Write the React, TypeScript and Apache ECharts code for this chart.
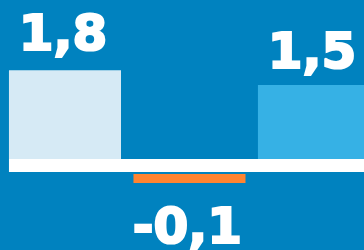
import React, { useEffect, useRef } from "react";
import * as echarts from "echarts";

const categories = ["A", "B", "C"];
const values = [1.8, -0.1, 1.5];
const labels = ["1,8", "-0,1", "1,5"];
const colors = ["#d6eaf5", "#ff8431", "#36b1e5"];

const BG = "#0082bf";

export default function App() {
  const ref = useRef<HTMLDivElement>(null);
  useEffect(() => {
    const chart = echarts.init(ref.current!, null, { renderer: "svg" });
    const data = values.map((v, i) => [i, v, categories[i]]);
    const option: any = {
      animation: false,
      backgroundColor: BG,
      grid: { left: 0, right: 0, top: 0, bottom: 0 },
      xAxis: {
        type: "value",
        min: -0.522,
        max: 2.402,
        show: false,
        splitLine: { show: false },
      },
      yAxis: {
        type: "value",
        min: -1.84,
        max: 3.22,
        show: false,
        splitLine: { show: false },
      },
      series: [
        {
          type: "custom",
          data,
          clip: false,
          renderItem: (params: any, api: any) => {
            const i = api.value(0);
            const v = api.value(1);
            const base = api.coord([i, 0]);
            const top = api.coord([i, v]);
            const w = api.size([1, 0])[0] * 0.9;
            const x = base[0] - w / 2;
            const fill = colors[params.dataIndex];
            const text = labels[params.dataIndex];
            const font = "bold 50px 'DejaVu Sans'";
            const textStyle = {
              text,
              font,
              fill: "#ffffff",
              stroke: "#ffffff",
              lineWidth: 2.2,
              align: "center",
            };
            if (v >= 0) {
              const baseline = base[1] + (top[1] - base[1]) * 1.245;
              return {
                type: "group",
                children: [
                  {
                    type: "rect",
                    shape: { x, y: top[1], width: w, height: base[1] - top[1] },
                    style: { fill },
                  },
                  {
                    type: "text",
                    x: base[0] - 2,
                    y: baseline + 9.5,
                    style: { ...textStyle, verticalAlign: "bottom" },
                  },
                ],
              };
            }
            const y0 = base[1] + 15;
            const h = Math.max(top[1] - base[1], 9);
            return {
              type: "group",
              children: [
                {
                  type: "rect",
                  shape: { x, y: y0, width: w, height: h },
                  style: { fill },
                },
                {
                  type: "text",
                  x: base[0] - 2,
                  y: y0 + h + 18,
                  style: { ...textStyle, verticalAlign: "top" },
                },
              ],
            };
          },
        },
      ],
    };
    chart.setOption(option);
    const zero = chart.convertToPixel({ yAxisIndex: 0 }, 0) as number;
    const c0 = chart.convertToPixel({ xAxisIndex: 0 }, 0) as number;
    const band = (chart.convertToPixel({ xAxisIndex: 0 }, 1) as number) - c0;
    const left = c0 - band * 0.45;
    chart.setOption({
      graphic: [
        {
          type: "rect",
          shape: { x: left, y: zero, width: 364 - left, height: 13 },
          style: { fill: "#ffffff" },
          z: 10,
        },
      ],
    });
    return () => chart.dispose();
  }, []);
  return (
    <div
      ref={ref}
      style={{ position: "fixed", left: 0, top: 0, width: 364, height: 250 }}
    />
  );
}
